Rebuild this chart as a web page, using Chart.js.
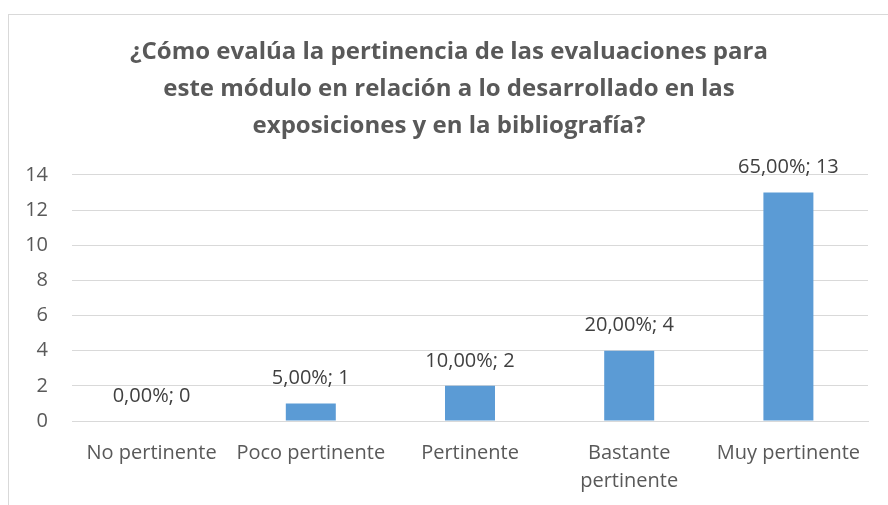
<!DOCTYPE html>
<html>
<head>
<meta charset="utf-8">
<script src="https://cdn.jsdelivr.net/npm/chart.js@4.4.1/dist/chart.umd.min.js"></script>
<style>
  html, body { margin: 0; padding: 0; background: #fff; overflow: hidden; }
  #box {
    position: absolute; left: 8px; top: 14px;
    width: 880px; height: 520px;
    border: 1px solid #d9d9d9; background: #fff;
  }
  #chart { display: block; }
</style>
</head>
<body>
<div id="box"><canvas id="chart" width="880" height="490"></canvas></div>
<script>
// data
const categories = ['No pertinente', 'Poco pertinente', 'Pertinente', ['Bastante', 'pertinente'], 'Muy pertinente'];
const counts = [0, 1, 2, 4, 13];
const percents = ['0,00%', '5,00%', '10,00%', '20,00%', '65,00%'];
const yTicks = [0, 2, 4, 6, 8, 10, 12, 14];

const titleLines = [
    '¿Cómo evalúa la pertinencia de las evaluaciones para',
    'este módulo en relación a lo desarrollado en las',
    'exposiciones y en la bibliografía?'
];

const FONT = "'Open Sans', sans-serif";

// "65,00%; 13" style labels sitting above each bar
const barLabels = {
    id: 'barLabels',
    afterDatasetsDraw(chart) {
        const ctx = chart.ctx;
        const meta = chart.getDatasetMeta(0);
        ctx.save();
        ctx.font = '20px ' + FONT;
        ctx.fillStyle = '#404040';
        ctx.textAlign = 'center';
        ctx.textBaseline = 'middle';
        meta.data.forEach((bar, i) => {
            ctx.fillText(percents[i] + '; ' + counts[i], bar.x, bar.y - 25);
        });
        ctx.restore();
    }
};

new Chart(document.getElementById('chart'), {
    type: 'bar',
    data: {
        labels: categories,
        datasets: [{
            data: counts,
            backgroundColor: '#5b9bd5',
            borderWidth: 0,
            barPercentage: 0.314,
            categoryPercentage: 1
        }]
    },
    options: {
        responsive: false,
        animation: false,
        layout: { padding: 0 },
        plugins: {
            legend: { display: false },
            tooltip: { enabled: false },
            title: {
                display: true,
                text: titleLines,
                color: '#595959',
                font: { family: FONT, size: 24, weight: 'bold', lineHeight: 1.54 },
                padding: { top: 19, bottom: 30 }
            }
        },
        scales: {
            x: {
                grid: { display: false, drawTicks: false },
                border: { display: true, color: '#d9d9d9', width: 1 },
                ticks: {
                    color: '#595959',
                    font: { family: FONT, size: 20, lineHeight: 1.4 },
                    padding: 18,
                    maxRotation: 0,
                    autoSkip: false
                },
                afterFit(scale) { scale.height = 84; }
            },
            y: {
                min: 0,
                max: 14,
                afterBuildTicks(scale) { scale.ticks = yTicks.map(v => ({ value: v })); },
                grid: { color: '#d9d9d9', lineWidth: 1, drawTicks: false },
                border: { display: false },
                ticks: {
                    color: '#595959',
                    font: { family: FONT, size: 20 },
                    padding: 24
                },
                afterFit(scale) { scale.width = 63; }
            },
            // empty strip on the right so the title stays centred on the whole box
            spacer: {
                type: 'linear',
                position: 'right',
                grid: { display: false, drawTicks: false },
                border: { display: false },
                ticks: { display: false },
                afterFit(scale) { scale.width = 21; }
            }
        }
    },
    plugins: [barLabels]
});
</script>
</body>
</html>
